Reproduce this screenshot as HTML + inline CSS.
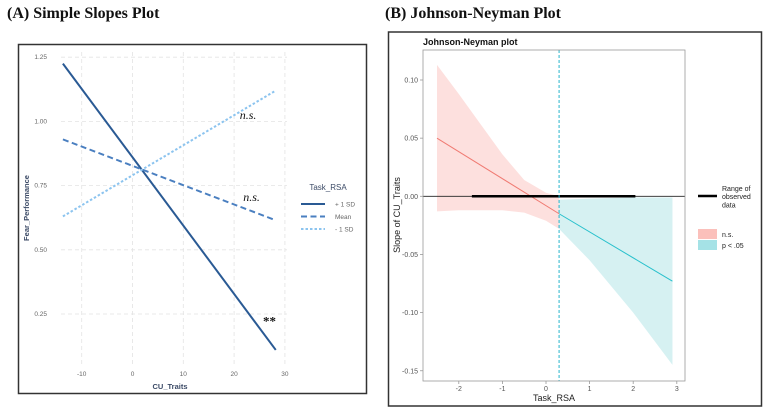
<!DOCTYPE html>
<html><head><meta charset="utf-8">
<style>
html,body{margin:0;padding:0;background:#fff;width:768px;height:412px;overflow:hidden}
svg{display:block}
.hd{font-family:"Liberation Serif",serif;font-weight:bold;font-size:16px;fill:#111}
.tk{font-family:"Liberation Sans",sans-serif;font-size:6.5px;fill:#666}
.tk2{font-family:"Liberation Sans",sans-serif;font-size:7px;fill:#555}
</style></head>
<body>
<svg id="svg" width="768" height="412" viewBox="0 0 768 412" xmlns="http://www.w3.org/2000/svg">
<text x="7" y="18" class="hd">(A) Simple Slopes Plot</text>
<text x="385" y="18" class="hd">(B) Johnson-Neyman Plot</text>
<rect x="18.5" y="44.5" width="348" height="349" fill="#fff" stroke="#333" stroke-width="1.5"/>
<rect x="388.5" y="32" width="373" height="374" fill="#fff" stroke="#333" stroke-width="1.5"/>
<g id="ga"></g>
<g id="gb"></g>
</svg>
<script>
// ---- Panel A data ----
const aXTicks = [-10, 0, 10, 20, 30];
const aYTicks = [0.25, 0.50, 0.75, 1.00, 1.25];
const aYTickLabels = ["0.25", "0.50", "0.75", "1.00", "1.25"];
const aSeriesNames = ["+ 1 SD", "Mean", "- 1 SD"];
const aXRange = [-13.7, 28.2];
const aPlus1SD = [1.225, 0.11];
const aMean = [0.93, 0.615];
const aMinus1SD = [0.63, 1.12];
const aAnnotations = ["n.s.", "n.s.", "**"];
const aAnnotX = [21.1, 21.8, 25.7];
const aAnnotY = [1.01, 0.69, 0.205];

// ---- Panel B data ----
const bXTicks = [-2, -1, 0, 1, 2, 3];
const bYTicks = [0.10, 0.05, 0.00, -0.05, -0.10, -0.15];
const bYTickLabels = ["0.10", "0.05", "0.00", "-0.05", "-0.10", "-0.15"];
const bJN = 0.3;
const bNsX = [-2.5, -2.0, -1.5, -1.0, -0.5, 0.0, 0.3];
const bNsUpper = [0.113, 0.088, 0.062, 0.036, 0.014, 0.003, 0.0];
const bNsLower = [-0.013, -0.012, -0.012, -0.012, -0.014, -0.021, -0.028];
const bNsSlope = [0.05, -0.015];
const bSigX = [0.3, 1.0, 2.0, 2.9];
const bSigUpper = [-0.003, -0.002, -0.001, -0.001];
const bSigLower = [-0.028, -0.055, -0.1, -0.145];
const bSigSlope = [-0.015, -0.073];
const bObsRange = [-1.7, 2.05];

const NS = "http://www.w3.org/2000/svg";
function mk(parent, tag, attrs, txt) {
  const e = document.createElementNS(NS, tag);
  for (const k in attrs) e.setAttribute(k, attrs[k]);
  if (txt !== undefined) e.textContent = txt;
  parent.appendChild(e);
  return e;
}

// ---- Panel A ----
const ga = document.getElementById('ga');
const ax = v => 132.5 + v * 5.08;
const ay = v => 314 - (v - 0.25) * 256.8;
aXTicks.forEach(t => {
  const l = mk(ga, 'line', {x1: ax(t), x2: ax(t), y1: 52, y2: 367, stroke: '#e3e3e3', 'stroke-width': 0.8, 'stroke-dasharray': '4,3'});
  
  
  const tx = mk(ga, 'text', {x: ax(t), y: 376, 'text-anchor': 'middle', class: 'tk'}, String(t));
  
  
});
aYTicks.forEach((t, i) => {
  const l = mk(ga, 'line', {x1: 61, x2: 287, y1: ay(t), y2: ay(t), stroke: '#e3e3e3', 'stroke-width': 0.8, 'stroke-dasharray': '4,3'});
  
  
  const tx = mk(ga, 'text', {x: 47, y: ay(t) + 2, 'text-anchor': 'end', class: 'tk'}, aYTickLabels[i]);
  
  
});
const aSeries = [aPlus1SD, aMean, aMinus1SD];
const aStyles = [
  {stroke: '#2a5a94', 'stroke-width': 2},
  {stroke: '#4a7fc0', 'stroke-width': 2, 'stroke-dasharray': '6,3.5'},
  {stroke: '#8cc4ef', 'stroke-width': 2, 'stroke-dasharray': '2.5,2'}
];
const aNames = ['line-plus-1sd', 'line-mean', 'line-minus-1sd'];
aSeries.forEach((s, i) => {
  const l = mk(ga, 'line', Object.assign({x1: ax(aXRange[0]), y1: ay(s[0]), x2: ax(aXRange[1]), y2: ay(s[1])}, aStyles[i]));
  
  
  const ll = mk(ga, 'line', Object.assign({x1: 301, x2: 325, y1: 204 + i * 12.5, y2: 204 + i * 12.5}, aStyles[i]));
  
  
  const lt = mk(ga, 'text', {x: 335, y: 206.5 + i * 12.5, class: 'tk'}, aSeriesNames[i]);
  
  
});
aAnnotations.forEach((a, i) => {
  const t = mk(ga, 'text', {x: ax(aAnnotX[i]), y: ay(aAnnotY[i]), 'font-family': '"Liberation Serif",serif', 'font-size': a === '**' ? 13 : 12, 'font-style': a === '**' ? 'normal' : 'italic', 'font-weight': a === '**' ? 'bold' : 'normal', fill: '#111'}, a);
  
  
});
let t;
t = mk(ga, 'text', {x: 328, y: 190, 'text-anchor': 'middle', 'font-family': '"Liberation Sans",sans-serif', 'font-size': 8, fill: '#3b4a66'}, 'Task_RSA');


t = mk(ga, 'text', {x: 170, y: 389, 'text-anchor': 'middle', 'font-family': '"Liberation Sans",sans-serif', 'font-size': 7.5, 'font-weight': 'bold', fill: '#3b4a66'}, 'CU_Traits');


t = mk(ga, 'text', {x: 0, y: 0, transform: 'translate(29,208) rotate(-90)', 'text-anchor': 'middle', 'font-family': '"Liberation Sans",sans-serif', 'font-size': 7.5, 'font-weight': 'bold', fill: '#3b4a66'}, 'Fear_Performance');



// ---- Panel B ----
const gb = document.getElementById('gb');
const bx = v => 546 + v * 43.6;
const by = v => 196.3 - v * 1163;
function bandPath(xs, up, lo) {
  let d = 'M' + xs.map((x, i) => bx(x) + ',' + by(up[i])).join(' L');
  for (let i = xs.length - 1; i >= 0; i--) d += ' L' + bx(xs[i]) + ',' + by(lo[i]);
  return d + 'Z';
}
let p = mk(gb, 'path', {d: bandPath(bNsX, bNsUpper, bNsLower), fill: '#fde0de'});


p = mk(gb, 'path', {d: bandPath(bSigX, bSigUpper, bSigLower), fill: '#d6f1f2'});


p = mk(gb, 'line', {x1: bx(bNsX[0]), y1: by(bNsSlope[0]), x2: bx(bJN), y2: by(bNsSlope[1]), stroke: '#f07a72', 'stroke-width': 1});


p = mk(gb, 'line', {x1: bx(bJN), y1: by(bSigSlope[0]), x2: bx(bSigX[bSigX.length - 1]), y2: by(bSigSlope[1]), stroke: '#27c0cc', 'stroke-width': 1});


p = mk(gb, 'line', {x1: 423, x2: 685, y1: by(0), y2: by(0), stroke: '#222', 'stroke-width': 0.8});


p = mk(gb, 'line', {x1: bx(bObsRange[0]), x2: bx(bObsRange[1]), y1: by(0), y2: by(0), stroke: '#000', 'stroke-width': 2.5});


p = mk(gb, 'line', {x1: bx(bJN), x2: bx(bJN), y1: 50, y2: 381, stroke: '#27b5cc', 'stroke-width': 1, 'stroke-dasharray': '3,2'});


p = mk(gb, 'rect', {x: 423, y: 50, width: 262, height: 331, fill: 'none', stroke: '#999', 'stroke-width': 0.8});


bXTicks.forEach(v => {
  const l = mk(gb, 'line', {x1: bx(v), x2: bx(v), y1: 381, y2: 384, stroke: '#999', 'stroke-width': 0.8});
  
  
  const tx = mk(gb, 'text', {x: bx(v), y: 391, 'text-anchor': 'middle', class: 'tk2'}, String(v));
  
  
});
bYTicks.forEach((v, i) => {
  const l = mk(gb, 'line', {x1: 420, x2: 423, y1: by(v), y2: by(v), stroke: '#999', 'stroke-width': 0.8});
  
  
  const tx = mk(gb, 'text', {x: 418, y: by(v) + 2.5, 'text-anchor': 'end', class: 'tk2'}, bYTickLabels[i]);
  
  
});
t = mk(gb, 'text', {x: 423, y: 45, 'font-family': '"Liberation Sans",sans-serif', 'font-size': 9, 'font-weight': 'bold', fill: '#111'}, 'Johnson-Neyman plot');


t = mk(gb, 'text', {x: 554, y: 401, 'text-anchor': 'middle', 'font-family': '"Liberation Sans",sans-serif', 'font-size': 9, fill: '#222'}, 'Task_RSA');


t = mk(gb, 'text', {x: 0, y: 0, transform: 'translate(400,215) rotate(-90)', 'text-anchor': 'middle', 'font-family': '"Liberation Sans",sans-serif', 'font-size': 9, fill: '#222'}, 'Slope of CU_Traits');


p = mk(gb, 'line', {x1: 698, x2: 717, y1: 196, y2: 196, stroke: '#000', 'stroke-width': 2.5});


['Range of', 'observed', 'data'].forEach((s, i) => {
  const tx = mk(gb, 'text', {x: 722, y: 191 + i * 8.2, 'font-family': '"Liberation Sans",sans-serif', 'font-size': 7, fill: '#222'}, s);
  
  
});
p = mk(gb, 'rect', {x: 698, y: 229, width: 19, height: 10, fill: '#fbc0bb'});


p = mk(gb, 'rect', {x: 698, y: 240, width: 19, height: 10, fill: '#a5e2e6'});


t = mk(gb, 'text', {x: 722, y: 237, 'font-family': '"Liberation Sans",sans-serif', 'font-size': 7, fill: '#222'}, 'n.s.');


t = mk(gb, 'text', {x: 722, y: 248, 'font-family': '"Liberation Sans",sans-serif', 'font-size': 7, fill: '#222'}, 'p < .05');


</script>
</body></html>
